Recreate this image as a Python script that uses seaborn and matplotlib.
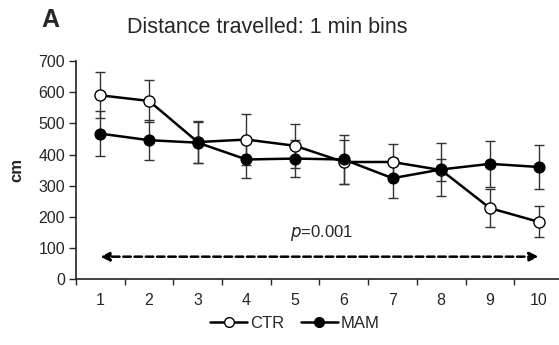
import numpy as np
import pandas as pd
import matplotlib
matplotlib.use("Agg")
import matplotlib.pyplot as plt
import seaborn as sns
from matplotlib.lines import Line2D

# 1 min bins
bins = [1, 2, 3, 4, 5, 6, 7, 8, 9, 10]
ctr_mean = [590, 572, 440, 448, 428, 376, 376, 350, 228, 184]
ctr_sem = [74, 68, 68, 83, 70, 72, 58, 35, 60, 50]
mam_mean = [467, 446, 438, 384, 387, 384, 324, 352, 370, 360]
mam_sem = [72, 65, 66, 58, 58, 80, 65, 84, 73, 70]
p_text = "$\\it{p}$=0.001"

sns.set_style("ticks")
plt.rcParams['font.family'] = ['Liberation Sans', 'DejaVu Sans']

fig = plt.figure(figsize=(5.59, 3.45), dpi=100)
ax = fig.add_axes([0.136, 0.191, 0.871, 0.632])

df = pd.DataFrame({"bin": bins * 2,
                   "cm": ctr_mean + mam_mean,
                   "group": ["CTR"] * 10 + ["MAM"] * 10})

# error bars first so markers sit on top
ax.errorbar(bins, ctr_mean, yerr=ctr_sem, fmt="none", ecolor="#333333",
            elinewidth=1, capsize=3.5, capthick=1, zorder=2)
ax.errorbar(bins, mam_mean, yerr=mam_sem, fmt="none", ecolor="#333333",
            elinewidth=1, capsize=3.5, capthick=1, zorder=2)

sns.lineplot(data=df[df.group == "CTR"], x="bin", y="cm", ax=ax, color="black",
             lw=1.8, marker="o", markersize=8, markerfacecolor="white",
             markeredgecolor="black", markeredgewidth=1, zorder=3)
sns.lineplot(data=df[df.group == "MAM"], x="bin", y="cm", ax=ax, color="black",
             lw=1.8, marker="o", markersize=8, markerfacecolor="black",
             markeredgecolor="black", zorder=4)

# dashed double arrow with p value
ax.annotate("", xy=(1, 72), xytext=(10, 72),
            arrowprops=dict(arrowstyle="<|-|>", color="black", lw=1.8,
                            linestyle=(0, (3, 1.5)), mutation_scale=13,
                            shrinkA=0, shrinkB=0))
ax.text(5.55, 115, p_text, ha="center", va="bottom", fontsize=12)

ax.set_xlim(0.5, 10.5)
ax.set_ylim(0, 700)
ax.set_yticks(range(0, 701, 100))
ax.set_xticks(np.arange(0.5, 10.5, 1))
ax.set_xticklabels([])
ax.set_xticks(bins, minor=True)
ax.set_xticklabels([str(b) for b in bins], minor=True)
ax.tick_params(axis="x", which="minor", length=0, pad=10, labelsize=11.5)
ax.tick_params(axis="x", which="major", length=4, width=1, direction="out")
ax.tick_params(axis="y", length=5, width=1, direction="out", labelsize=11.5, pad=3)
for s in ["top", "right"]:
    ax.spines[s].set_visible(False)
for s in ["left", "bottom"]:
    ax.spines[s].set_linewidth(1.2)
    ax.spines[s].set_color("#222222")

ax.set_xlabel("")
ax.set_ylabel("cm", fontsize=12, fontweight="bold", labelpad=10)

fig.text(0.478, 0.92, "Distance travelled: 1 min bins", ha="center", va="center",
         fontsize=15.5)
fig.text(0.09, 0.942, "A", ha="center", va="center", fontsize=18, fontweight="bold")

handles = [Line2D([], [], color="black", lw=1.8, marker="o", markersize=7,
                  markerfacecolor="white", markeredgecolor="black"),
           Line2D([], [], color="black", lw=1.8, marker="o", markersize=7,
                  markerfacecolor="black")]
fig.legend(handles, ["CTR", "MAM"], loc="center", bbox_to_anchor=(0.528, 0.063),
           ncol=2, frameon=False, fontsize=12, handlelength=2.2,
           handletextpad=0.2, columnspacing=1.0)

fig.savefig("out.png", dpi=100)
